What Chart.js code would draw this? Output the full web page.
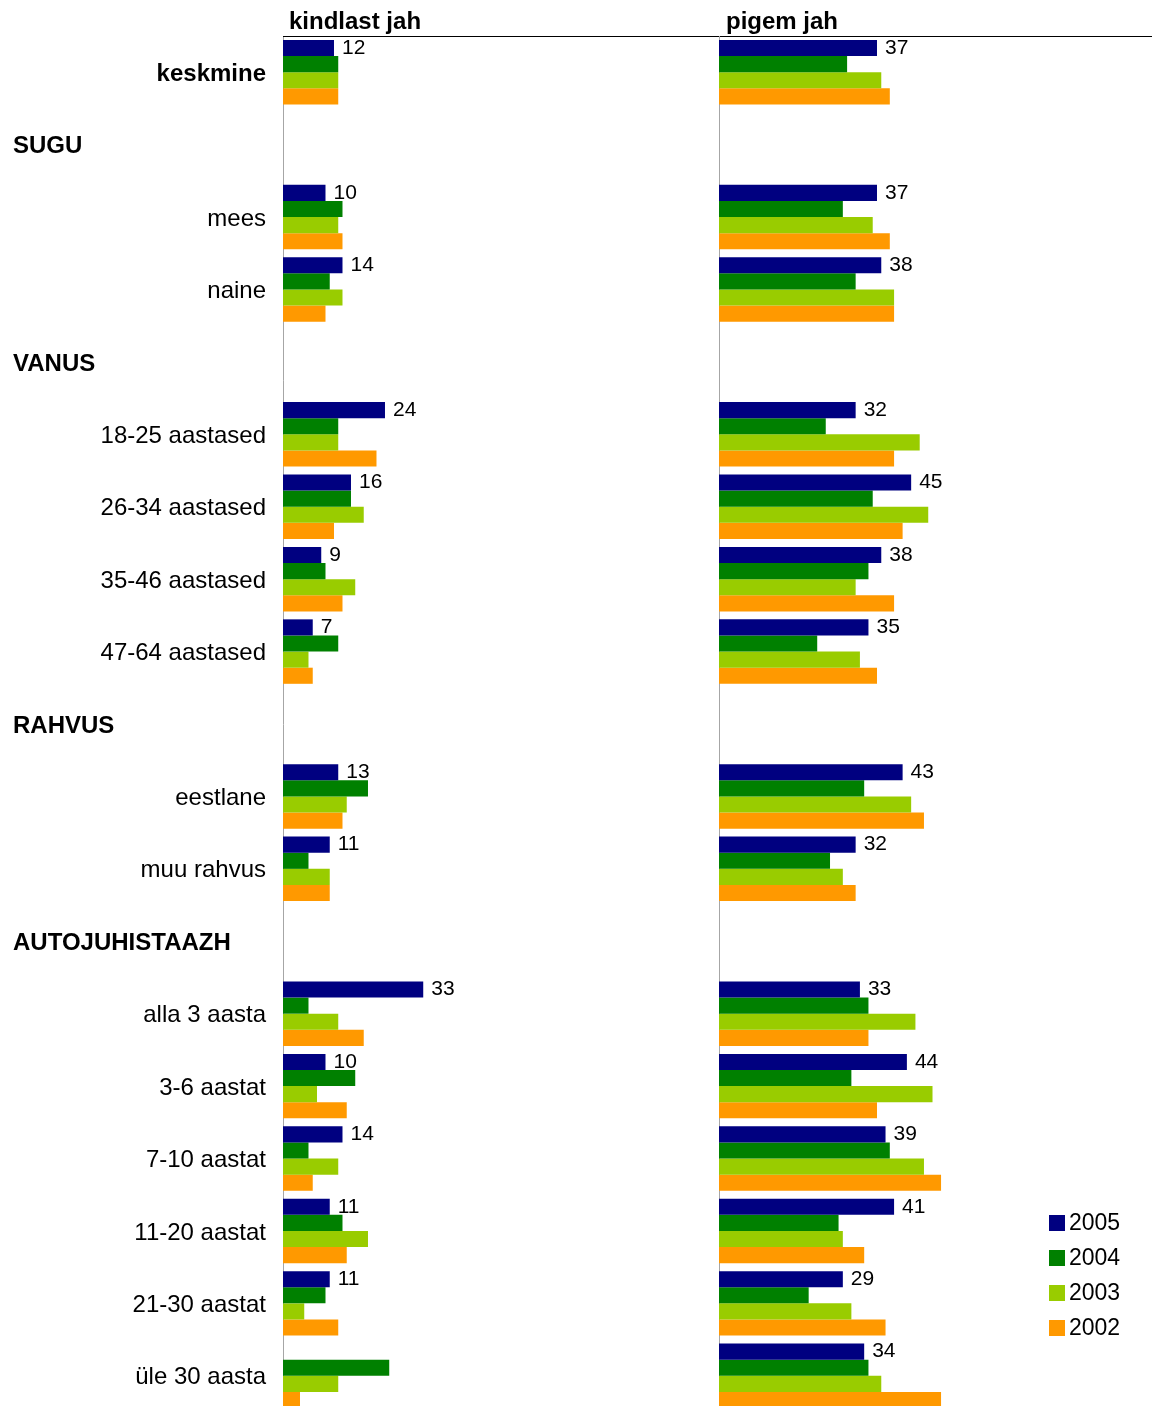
<!DOCTYPE html>
<html>
<head>
    <meta charset="utf-8" />
    <title></title>
    <script src="https://cdn.jsdelivr.net/npm/chart.js"></script>
    <style>
        body { margin: 0; overflow: hidden; background: #fff; }
    </style>
</head>
<body>
    <canvas id="myChart" width="1152" height="1412"></canvas>

    <script>
        const categories = ['keskmine', 'SUGU', 'mees', 'naine', 'VANUS', '18-25 aastased', '26-34 aastased',
            '35-46 aastased', '47-64 aastased', 'RAHVUS', 'eestlane', 'muu rahvus', 'AUTOJUHISTAAZH',
            'alla 3 aasta', '3-6 aastat', '7-10 aastat', '11-20 aastat', '21-30 aastat', 'üle 30 aasta'];
        const headers = ['SUGU', 'VANUS', 'RAHVUS', 'AUTOJUHISTAAZH'];
        const years = ['2005', '2004', '2003', '2002'];
        const colors = ['#000080', '#008000', '#99CC00', '#FF9900'];
        const panelTitles = ['kindlast jah', 'pigem jah'];

        // kindlast jah
        const kindlast2005 = [12, null, 10, 14, null, 24, 16, 9, 7, null, 13, 11, null, 33, 10, 14, 11, 11, null];
        const kindlast2004 = [13, null, 14, 11, null, 13, 16, 10, 13, null, 20, 6, null, 6, 17, 6, 14, 10, 25];
        const kindlast2003 = [13, null, 13, 14, null, 13, 19, 17, 6, null, 15, 11, null, 13, 8, 13, 20, 5, 13];
        const kindlast2002 = [13, null, 14, 10, null, 22, 12, 14, 7, null, 14, 11, null, 19, 15, 7, 15, 13, 4];

        // pigem jah
        const pigem2005 = [37, null, 37, 38, null, 32, 45, 38, 35, null, 43, 32, null, 33, 44, 39, 41, 29, 34];
        const pigem2004 = [30, null, 29, 32, null, 25, 36, 35, 23, null, 34, 26, null, 35, 31, 40, 28, 21, 35];
        const pigem2003 = [38, null, 36, 41, null, 47, 49, 32, 33, null, 45, 29, null, 46, 50, 48, 29, 31, 38];
        const pigem2002 = [40, null, 40, 41, null, 41, 43, 41, 37, null, 48, 32, null, 35, 37, 52, 34, 39, 52];

        const FONT = '"Liberation Sans", Arial, sans-serif';

        const kindlast = [kindlast2005, kindlast2004, kindlast2003, kindlast2002];
        const pigem = [pigem2005, pigem2004, pigem2003, pigem2002];

        const datasets = [];
        years.forEach((y, i) => {
            datasets.push({ label: y, data: kindlast[i], xAxisID: 'x', stack: 's' + y, backgroundColor: colors[i] });
        });
        years.forEach((y, i) => {
            datasets.push({ label: y, data: pigem[i], xAxisID: 'x2', stack: 's' + y, backgroundColor: colors[i] });
        });

        // headers, panel titles, value labels, legend
        const extras = {
            id: 'extras',
            beforeDatasetsDraw(chart) {
                // divider line for the second panel
                const ctx = chart.ctx;
                const xr = Math.round(chart.scales.x2.getPixelForValue(0)) + 0.5;
                ctx.save();
                ctx.strokeStyle = '#a6a6a6';
                ctx.lineWidth = 1;
                ctx.beginPath();
                ctx.moveTo(xr, chart.chartArea.top);
                ctx.lineTo(xr, chart.chartArea.bottom);
                ctx.stroke();
                ctx.restore();
            },
            afterDraw(chart) {
                const ctx = chart.ctx;
                const yS = chart.scales.y;
                ctx.save();
                ctx.fillStyle = '#000';

                // group headers
                ctx.font = 'bold 24px ' + FONT;
                ctx.textAlign = 'left';
                ctx.textBaseline = 'middle';
                categories.forEach((c, i) => {
                    if (headers.includes(c)) ctx.fillText(c, 13, yS.getPixelForValue(i) + 2);
                });

                // panel titles
                ctx.textBaseline = 'alphabetic';
                ctx.fillText(panelTitles[0], chart.scales.x.left + 6, 29);
                ctx.fillText(panelTitles[1], chart.scales.x2.left + 7, 29);

                // 2005 values
                ctx.font = '21px ' + FONT;
                ctx.textBaseline = 'middle';
                [0, 4].forEach(di => {
                    const meta = chart.getDatasetMeta(di);
                    meta.data.forEach((bar, j) => {
                        const v = chart.data.datasets[di].data[j];
                        if (v === null) return;
                        ctx.fillText(v, bar.x + 8, bar.y);
                    });
                });

                // legend
                ctx.font = '23px ' + FONT;
                years.forEach((y, i) => {
                    const cy = 1223 + i * 35;
                    ctx.fillStyle = colors[i];
                    ctx.fillRect(1049, cy - 8, 16, 16);
                    ctx.fillStyle = '#000';
                    ctx.fillText(y, 1069, cy + 1);
                });
                ctx.restore();
            }
        };

        const config = {
            type: 'bar',
            data: { labels: categories, datasets },
            options: {
                indexAxis: 'y',
                responsive: false,
                animation: false,
                categoryPercentage: 0.89,
                barPercentage: 1,
                layout: { padding: 0 },
                plugins: { legend: { display: false }, tooltip: { enabled: false } },
                scales: {
                    y: {
                        grid: { display: false, drawTicks: false },
                        border: { color: '#a6a6a6', width: 1 },
                        afterFit(scale) {
                            scale.width = 283;
                            scale.paddingTop = 0;
                            scale.paddingBottom = 0;
                        },
                        ticks: {
                            padding: 17,
                            labelOffset: 2,
                            color: '#000',
                            autoSkip: false,
                            callback(v, i) { return headers.includes(categories[i]) ? '' : categories[i]; },
                            font(ctx) {
                                return { family: FONT, size: 24, weight: ctx.index === 0 ? 'bold' : 'normal' };
                            }
                        }
                    },
                    x: {
                        position: 'top',
                        weight: 1,
                        stack: 'panels',
                        stackWeight: 436,
                        stacked: false,
                        min: 0,
                        max: 102.6,
                        afterFit(scale) { scale.height = 36; },
                        grid: { display: false, drawTicks: false },
                        border: { color: '#000', width: 1 },
                        ticks: { display: false }
                    },
                    x2: {
                        position: 'top',
                        weight: 0,
                        stack: 'panels',
                        stackWeight: 433,
                        stacked: false,
                        min: 0,
                        max: 101.4,
                        afterFit(scale) { scale.height = 36; },
                        grid: { display: false, drawTicks: false },
                        border: { color: '#000', width: 1 },
                        ticks: { display: false }
                    }
                }
            },
            plugins: [extras]
        };

        var myChart = new Chart(document.getElementById('myChart'), config);
    </script>
</body>
</html>
